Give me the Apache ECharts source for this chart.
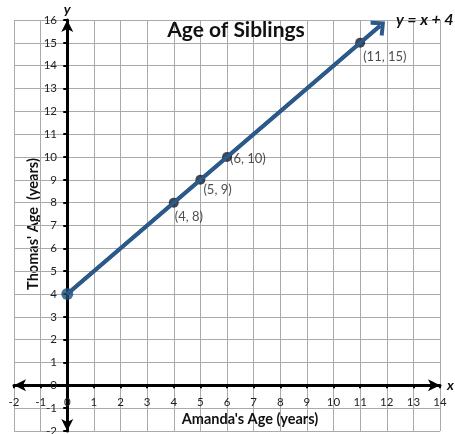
<!DOCTYPE html>
<html>
<head>
<meta charset="utf-8">
<script src="https://cdn.jsdelivr.net/npm/echarts@6/dist/echarts.min.js"></script>
<style>html,body{margin:0;padding:0;background:#fff;}#c{width:455px;height:434px;}</style>
</head>
<body>
<div id="c"></div>
<script>
const xMin = -2, xMax = 14;
const yMin = -2, yMax = 16;
const pointsX = [0, 4, 5, 6, 11];
const pointsY = [4, 8, 9, 10, 15];
const pointLabels = ['', '(4, 8)', '(5, 9)', '(6, 10)', '(11, 15)'];
const lineStart = [0, 4];
const lineEnd = [11.75, 15.75];

const labelOffsets = [[0,0], [-4, 14], [-2, 10], [-2, 2], [-2, 14]];
const FONT = 'Lato';

const chart = echarts.init(document.getElementById('c'));
chart.setOption({
  animation: false,
  backgroundColor: '#fff',
  title: [
    { text: 'Age of Siblings', left: 231, top: 15, textAlign: 'center',
      textStyle: { fontFamily: FONT, fontWeight: 'bold', fontSize: 21, color: '#111' } },
    { text: 'y = x + 4', left: 391, top: 7,
      textStyle: { fontFamily: FONT, fontWeight: 'bold', fontStyle: 'italic', fontSize: 16, color: '#111' } },
    { text: "Amanda's Age (years)", left: 245, top: 407, textAlign: 'center',
      textStyle: { fontFamily: FONT, fontWeight: 'bold', fontSize: 14.5, color: '#111' } }
  ],
  grid: { left: 14, right: 15, top: 20, bottom: 3, outerBoundsMode: 'none', containLabel: false },
  xAxis: {
    type: 'value', min: xMin, max: xMax, interval: 1,
    name: 'x', nameLocation: 'end', nameGap: 7,
    nameTextStyle: { fontFamily: FONT, fontStyle: 'italic', fontWeight: 'bold', fontSize: 14, color: '#111', verticalAlign: 'middle' },
    axisLine: { onZero: true, symbol: ['arrow', 'arrow'], symbolSize: [9, 12], lineStyle: { color: '#000', width: 3 } },
    axisTick: { show: true, length: 3, lineStyle: { color: '#000', width: 2 } },
    axisLabel: { fontFamily: FONT, fontSize: 11.5, color: '#222', margin: -35, verticalAlign: 'top' },
    splitLine: { show: true, lineStyle: { color: '#aaaaaa', width: 1 } }
  },
  yAxis: {
    type: 'value', min: yMin, max: yMax, interval: 1,
    name: 'y', nameLocation: 'end', nameGap: 4,
    nameTextStyle: { fontFamily: FONT, fontStyle: 'italic', fontWeight: 'bold', fontSize: 14, color: '#111' },
    axisLine: { onZero: true, symbol: ['arrow', 'arrow'], symbolSize: [9, 12], lineStyle: { color: '#000', width: 3 } },
    axisTick: { show: true, length: 4, lineStyle: { color: '#000', width: 2 } },
    axisLabel: { fontFamily: FONT, fontSize: 11.5, color: '#222', margin: -43, align: 'right' },
    splitLine: { show: true, lineStyle: { color: '#aaaaaa', width: 1 } }
  },
  graphic: [
    { type: 'text', x: 33, y: 224, rotation: Math.PI / 2,
      style: { text: "Thomas' Age  (years)", fontFamily: FONT, fontWeight: 'bold', fontSize: 14.5, fill: '#111', align: 'center', verticalAlign: 'middle' } }
  ],
  series: [
    {
      type: 'line', data: [lineStart, lineEnd], showSymbol: false, silent: true,
      lineStyle: { color: '#2B5A8A', width: 3.8 },
      markLine: {
        silent: true, animation: false,
        symbol: ['none', 'path://M0,10 L10,0 L20,10 L17,12.5 L10,5.5 L3,12.5 Z'],
        symbolSize: [20, 13],
        label: { show: false },
        lineStyle: { color: '#2B5A8A', width: 3.8, type: 'solid' },
        data: [[{ coord: lineStart }, { coord: lineEnd }]]
      },
      z: 3
    },
    {
      type: 'scatter', z: 4,
      data: pointsX.map((x, i) => ({
        value: [x, pointsY[i]],
        symbolSize: i === 0 ? 12 : 10,
        itemStyle: { color: i === 0 ? '#1F4E79' : '#151a22' },
        label: { show: pointLabels[i] !== '', formatter: pointLabels[i], position: 'right', distance: 0,
                 offset: labelOffsets[i], fontFamily: FONT, fontSize: 13, color: '#222' }
      }))
    }
  ]
});
</script>
</body>
</html>
